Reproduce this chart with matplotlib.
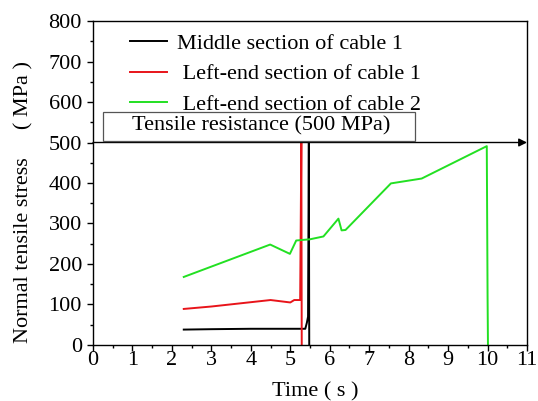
import numpy as np
import matplotlib
matplotlib.use('Agg')
import matplotlib.pyplot as plt
from matplotlib.patches import Rectangle
from matplotlib.ticker import MultipleLocator

# data
mid1_t = [2.3, 3.0, 4.0, 5.0, 5.38, 5.42, 5.45, 5.47, 5.48]
mid1_s = [38, 39, 40, 40, 40, 55, 70, 500, 0]

left1_t = [2.3, 3.0, 4.5, 5.0, 5.1, 5.25, 5.28, 5.29]
left1_s = [89, 95, 111, 105, 111, 111, 500, 0]

left2_t = [2.3, 4.49, 4.99, 5.15, 5.5, 5.84, 6.22, 6.3, 6.4, 7.55, 8.33, 9.98, 10.0, 10.01]
left2_s = [168, 248, 225, 258, 261, 268, 312, 283, 284, 399, 411, 491, 120, 0]

labels = ['Middle section of cable 1', ' Left-end section of cable 1',
          ' Left-end section of cable 2']
colors = ['black', '#e8141a', '#22e022']
limit = 500

plt.rcParams['font.family'] = ['Liberation Serif', 'DejaVu Serif']

fig = plt.figure(figsize=(5.38, 4.01), dpi=100)
ax = fig.add_axes([0.1729, 0.1397, 0.8067, 0.8079])

series = [(mid1_t, mid1_s), (left1_t, left1_s), (left2_t, left2_s)]
for (t, s), lab, c in zip(series, labels, colors):
    ax.plot(t, s, color=c, lw=1.4, label=lab)

# tensile resistance line with arrow
ax.annotate('', xy=(11, limit), xytext=(0, limit),
            arrowprops=dict(arrowstyle='-|>', color='black', lw=1.0,
                            mutation_scale=12, shrinkA=0, shrinkB=0))
ax.add_patch(Rectangle((0.25, limit + 4), 7.9, 72, fc='white', ec='#555555',
                       lw=0.9, zorder=3))
ax.text(1.0, limit + 40, 'Tensile resistance (500 MPa)', fontsize=16,
        ha='left', va='center', zorder=4)

ax.set_xlim(0, 11)
ax.set_ylim(0, 800)
ax.xaxis.set_major_locator(MultipleLocator(1))
ax.xaxis.set_minor_locator(MultipleLocator(0.5))
ax.yaxis.set_major_locator(MultipleLocator(100))
ax.yaxis.set_minor_locator(MultipleLocator(50))
ax.tick_params(which='major', direction='out', width=1, labelsize=16)
ax.tick_params(axis='x', which='major', length=4, pad=0)
ax.tick_params(axis='y', which='major', length=4, pad=4)
ax.tick_params(which='minor', direction='out', length=2.5, width=1)
ax.tick_params(top=False, right=False)
for sp in ax.spines.values():
    sp.set_linewidth(1.0)

ax.set_xlabel('Time ( s )', fontsize=16)
ax.set_ylabel('Normal tensile stress     ( MPa )', fontsize=16)
ax.xaxis.set_label_coords(0.5115, -0.114)
ax.yaxis.set_label_coords(-0.1375, 0.441)

ax.legend(loc='upper left', bbox_to_anchor=(0.056, 1.0), frameon=False,
          fontsize=16, handlelength=1.7, handletextpad=0.45,
          labelspacing=0.45, borderaxespad=0.15)

fig.savefig('out.png', dpi=100)
